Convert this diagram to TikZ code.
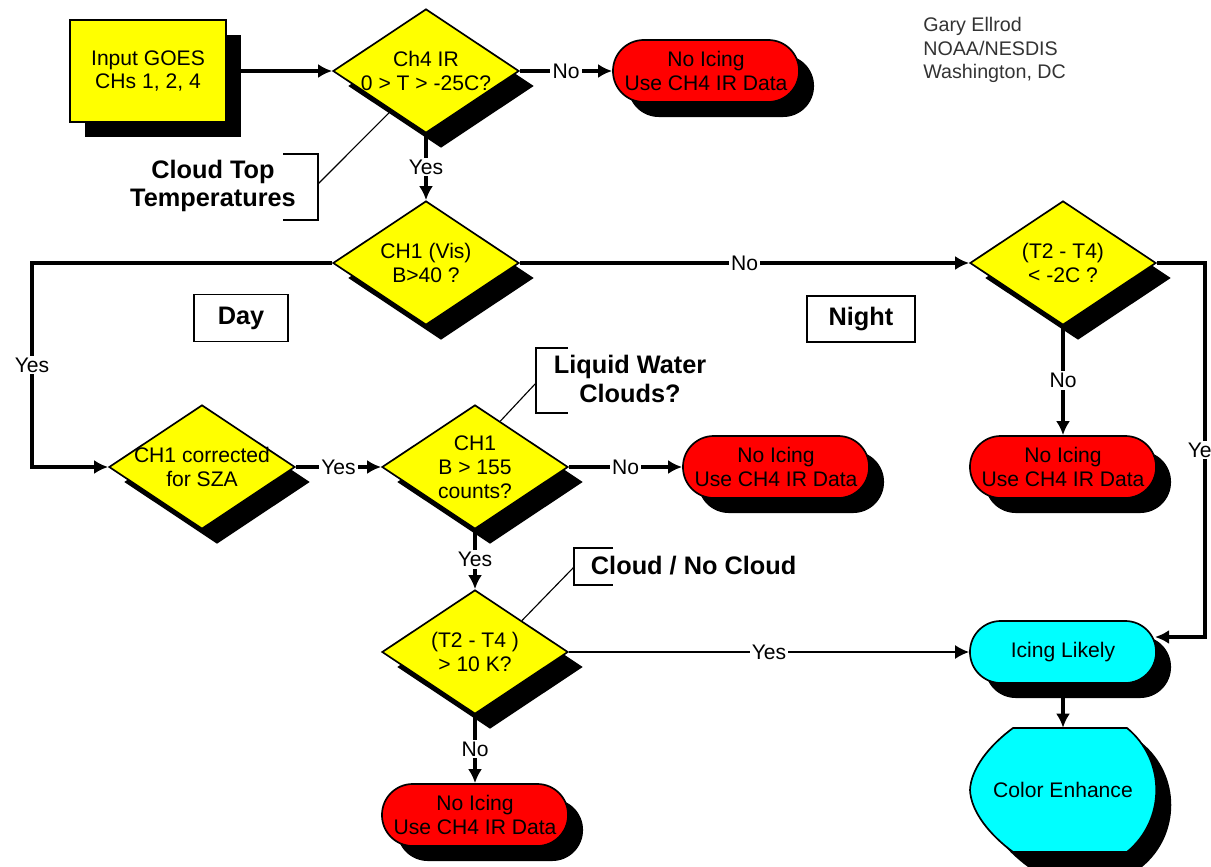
\documentclass[tikz,border=0pt]{standalone}
\usepackage{fontspec}
\setmainfont{Liberation Sans}
\usepackage{tikz}
\usetikzlibrary{calc, shapes.geometric, shadows, arrows.meta}

\definecolor{stepyellow}{RGB}{255,255,0}
\definecolor{stopred}{RGB}{255,0,0}
\definecolor{icecyan}{RGB}{0,255,255}

\tikzset{
    every node/.style={font=\fontsize{15}{17}\selectfont},
    blockshadow/.style={drop shadow={shadow xshift=0.375cm, shadow yshift=-0.375cm, fill=black, opacity=1}},
    inbox/.style={rectangle, draw, line width=1.2pt, fill=stepyellow, minimum width=3.9cm, minimum height=2.55cm, align=center, blockshadow},
    decide/.style={diamond, draw, line width=1.2pt, fill=stepyellow, inner sep=-12pt, minimum width=4.65cm, minimum height=3.1cm, align=center, blockshadow},
    term/.style={rectangle, rounded corners=0.77cm, draw, line width=1.2pt, fill=stopred, minimum width=4.65cm, minimum height=1.55cm, align=center, blockshadow},
    tagbox/.style={rectangle, draw, line width=1.2pt, font=\fontsize{18}{20}\selectfont\bfseries},
    note/.style={font=\fontsize{18}{20}\selectfont\bfseries, align=center},
    lbl/.style={fill=white, inner sep=1.5pt},
    flow/.style={->, line width=2.8pt},
    brk/.style={line width=1.2pt},
    leader/.style={line width=0.8pt}
}

\begin{document}
\begin{tikzpicture}[>={Latex[length=10pt,width=10pt]}, x=0.025cm, y=-0.025cm]

    % =================================================================
    % 1. PAGE FRAME (units are pixels of the original chart)
    % =================================================================
    \useasboundingbox (0,0) rectangle (1211,867);
    \clip (0,0) rectangle (1211,867);

    % =================================================================
    % 2. BLOCKS OF THE FLOW CHART
    % =================================================================
    \node[inbox] (input) at (148,71) {Input GOES\\CHs 1, 2, 4};
    \node[decide] (ch4) at (426,71) {Ch4 IR\\0 > T > -25C?};
    \node[term] (noice1) at (706,71) {No Icing\\Use CH4 IR Data};

    \node[decide] (vis) at (426,263) {CH1 (Vis)\\B>40 ?};
    \node[decide] (night) at (1063,263) {(T2 - T4)\\< -2C ?};

    \node[decide] (corr) at (202,467) {CH1 corrected\\for SZA};
    \node[decide] (b155) at (475,467) {CH1\\B > 155\\counts?};
    \node[term] (noice2) at (776,467) {No Icing\\Use CH4 IR Data};
    \node[term] (noice3) at (1063,467) {No Icing\\Use CH4 IR Data};

    \node[decide] (t2t4) at (475,652) {(T2 - T4 )\\> 10 K?};
    \node[term, fill=icecyan] (icing) at (1063,652) {Icing Likely};
    \node[term] (noice4) at (475,815) {No Icing\\Use CH4 IR Data};

    % display shape for the last step
    \draw[line width=1.2pt, fill=icecyan, blockshadow] (1013,728) -- (1127,728)
        .. controls (1166,760) and (1166,820) .. (1127,852) -- (1013,852)
        .. controls (990,835) and (971,812) .. (970,790)
        .. controls (971,768) and (990,745) .. (1013,728) -- cycle;
    \node[minimum width=4.675cm, minimum height=3.1cm] (colenh) at (1063,790) {Color Enhance};

    % =================================================================
    % 3. DAY / NIGHT TAGS AND NOTES
    % =================================================================
    \node[tagbox, minimum width=2.35cm, minimum height=1.175cm] (day) at (241,318) {Day};
    \node[tagbox, minimum width=2.7cm, minimum height=1.15cm] (nighttag) at (861,319) {Night};

    \node[anchor=north west, align=left, inner sep=0pt, text=black!80,
          font=\fontsize{14}{16.7}\selectfont] (author) at (923,17)
          {Gary Ellrod\\NOAA/NESDIS\\Washington, DC};

    \node[note] (cloudtop) at (213,186) {Cloud Top\\Temperatures};
    \node[note] (liquid) at (630,379) {Liquid Water\\Clouds?};
    \node[note, anchor=west] (cloudno) at (586,566) {Cloud / No Cloud};

    % brackets with their leader lines
    \coordinate (ctfoot) at (318,184);
    \coordinate (lqfoot) at (536,383);
    \coordinate (cnfoot) at (574,567);
    \draw[brk] (283,154) -- (318,154) -- (318,220) -- (283,220);
    \draw[brk] (568,348) -- (536,348) -- (536,413) -- (568,413);
    \draw[brk] (613,548) -- (574,548) -- (574,585) -- (613,585);
    \draw[leader] (ctfoot) -- ($(ch4.west)!0.63!(ch4.south)$);
    \draw[leader] (lqfoot) -- ($(b155.north)!0.27!(b155.east)$);
    \draw[leader] (cnfoot) -- ($(t2t4.north)!0.5!(t2t4.east)$);

    % =================================================================
    % 4. CONNECTORS
    % =================================================================
    \coordinate (dayturn) at (32,263);
    \coordinate (daycorner) at (32,467);
    \coordinate (nightturn) at (1205,263);
    \coordinate (yesturn) at (1205,637);
    \coordinate (yesin) at (1155,637);

    \draw[flow] (input) -- (ch4);
    \draw[flow] (ch4) -- node[lbl] {No} (noice1);
    \draw[flow] (ch4) -- node[lbl] {Yes} (vis);
    \draw[flow] (vis) -- node[lbl] {No} (night);
    \draw[flow] (vis.west) -- (dayturn) -- node[lbl] {Yes} (daycorner) -- (corr.west);
    \draw[flow] (corr) -- node[lbl] {Yes} (b155);
    \draw[flow] (b155) -- node[lbl] {No} (noice2);
    \draw[flow] (b155) -- node[lbl] {Yes} (t2t4);
    \draw[flow] (t2t4) -- node[lbl] {No} (noice4);
    \draw[flow, line width=1.5pt] (t2t4) -- node[lbl] {Yes} (icing);
    \draw[flow] (night) -- node[lbl] {No} (noice3);
    \draw[flow] (night.east) -- (nightturn) -- node[lbl] {Yes} (yesturn) -- (yesin);
    \draw[flow] (icing) -- (colenh);

\end{tikzpicture}
\end{document}
